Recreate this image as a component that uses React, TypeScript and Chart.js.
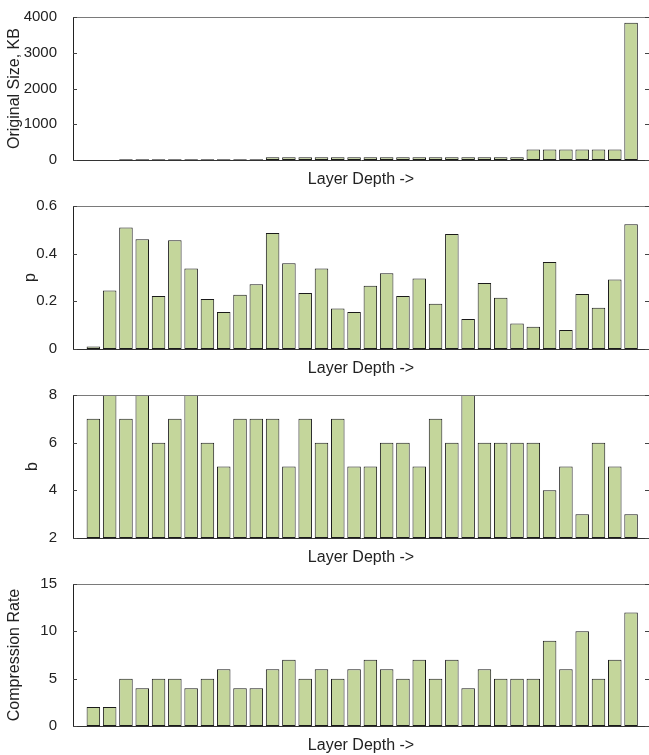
import React, { useEffect, useRef } from 'react';
import { Chart, registerables } from 'chart.js';

Chart.register(...registerables);

// ---- data ----
const layers = [1, 2, 3, 4, 5, 6, 7, 8, 9, 10, 11, 12, 13, 14, 15, 16, 17, 18, 19, 20, 21, 22, 23, 24, 25, 26, 27, 28, 29, 30, 31, 32, 33, 34];

const originalSizeKB = [3, 3, 20, 20, 20, 20, 20, 20, 20, 20, 20, 75, 75, 75, 75, 75, 75, 75, 75, 75, 75, 75, 75, 75, 75, 75, 75, 295, 295, 295, 295, 295, 295, 3840];

const pValues = [0.01, 0.245, 0.51, 0.46, 0.222, 0.456, 0.338, 0.21, 0.155, 0.228, 0.272, 0.487, 0.36, 0.235, 0.338, 0.17, 0.155, 0.265, 0.318, 0.222, 0.296, 0.19, 0.483, 0.126, 0.277, 0.215, 0.107, 0.093, 0.365, 0.08, 0.231, 0.173, 0.292, 0.523];

const bValues = [7, 8, 7, 8, 6, 7, 8, 6, 5, 7, 7, 7, 5, 7, 6, 7, 5, 5, 6, 6, 5, 7, 6, 8, 6, 6, 6, 6, 4, 5, 3, 6, 5, 3];

const compressionRate = [2, 2, 5, 4, 5, 5, 4, 5, 6, 4, 4, 6, 7, 5, 6, 5, 6, 7, 6, 5, 7, 5, 7, 4, 6, 5, 5, 5, 9, 6, 10, 5, 7, 12];

const xTitle = 'Layer Depth ->';

const panels = [
  { values: originalSizeKB, yTitle: 'Original Size, KB', min: 0, max: 4000, step: 1000, base: 0, titlePad: 5 },
  { values: pValues, yTitle: 'p', min: 0, max: 0.6, step: 0.2, base: 0, titlePad: 21 },
  { values: bValues, yTitle: 'b', min: 2, max: 8, step: 2, base: 2, titlePad: 23 },
  { values: compressionRate, yTitle: 'Compression Rate', min: 0, max: 15, step: 5, base: 0, titlePad: 5 },
];

const FONT = 'Liberation Sans, Arial, Helvetica, sans-serif';
const TEXT = '#222';
const PANEL_H = 189;
const WIDTH = 649;

const framePlugin = {
  id: 'frame',
  afterDraw(chart: any) {
    const { ctx, chartArea } = chart;
    const { left, right, top } = chartArea;
    const y = chart.scales.y;
    ctx.save();
    ctx.lineWidth = 1;
    ctx.strokeStyle = '#7a7a7a';
    ctx.beginPath();
    ctx.moveTo(left, Math.round(top) + 0.5);
    ctx.lineTo(right, Math.round(top) + 0.5);
    ctx.stroke();
    ctx.strokeStyle = '#444';
    ctx.beginPath();
    y.ticks.forEach((t: any) => {
      const py = Math.round(y.getPixelForValue(t.value)) + 0.5;
      ctx.moveTo(left, py);
      ctx.lineTo(left + 4, py);
      ctx.moveTo(right - 4, py);
      ctx.lineTo(right, py);
    });
    ctx.stroke();
    ctx.restore();
  },
};

function Panel({ cfg, height }: { cfg: any; height: number }) {
  const ref = useRef<HTMLCanvasElement>(null);
  useEffect(() => {
    if (!ref.current) return;
    const chart = new Chart(ref.current, {
      type: 'bar',
      data: {
        datasets: [
          {
            data: layers.map((x, i) => ({ x, y: cfg.values[i] })),
            backgroundColor: '#c4d69b',
            borderColor: '#1a1a1a',
            borderWidth: 1,
            borderSkipped: false,
            base: cfg.base,
            categoryPercentage: 1,
            barPercentage: 0.83,
          } as any,
        ],
      },
      options: {
        animation: false,
        responsive: false,
        maintainAspectRatio: false,
        plugins: { legend: { display: false }, tooltip: { enabled: false } },
        layout: { padding: { top: 15, left: 0, right: 0, bottom: 0 } },
        scales: {
          x: {
            type: 'linear',
            offset: false,
            min: -0.25,
            max: 35.1,
            grid: { display: false },
            ticks: { display: false },
            border: { display: true, color: '#333', width: 1 },
            title: {
              display: true,
              text: xTitle,
              color: TEXT,
              font: { family: FONT, size: 16, lineHeight: 1.2 },
              padding: { top: 0, bottom: 0 },
            },
            afterFit: (s: any) => {
              s.height = 29;
            },
          },
          y: {
            min: cfg.min,
            max: cfg.max,
            grid: { display: false },
            border: { display: true, color: '#222', width: 1 },
            ticks: {
              stepSize: cfg.step,
              padding: 8,
              color: TEXT,
              font: { family: FONT, size: 15 },
              callback: (v: any) => String(Math.round(Number(v) * 1000) / 1000),
            },
            title: {
              display: true,
              text: cfg.yTitle,
              color: TEXT,
              font: { family: FONT, size: 16, lineHeight: 1.2 },
              padding: { top: cfg.titlePad, bottom: 0 },
            },
            afterFit: (s: any) => {
              s.width = 73;
            },
          },
        },
      } as any,
      plugins: [framePlugin],
    });
    return () => chart.destroy();
  }, []);
  return (
    <div style={{ width: WIDTH, height }}>
      <canvas ref={ref} width={WIDTH} height={height} style={{ display: 'block' }} />
    </div>
  );
}

export default function App() {
  return (
    <div style={{ position: 'absolute', left: 0, top: 0, width: WIDTH, height: 755, background: '#fff' }}>
      {panels.map((p, i) => (
        <Panel key={i} cfg={p} height={i === 3 ? 755 - 3 * PANEL_H : PANEL_H} />
      ))}
    </div>
  );
}
